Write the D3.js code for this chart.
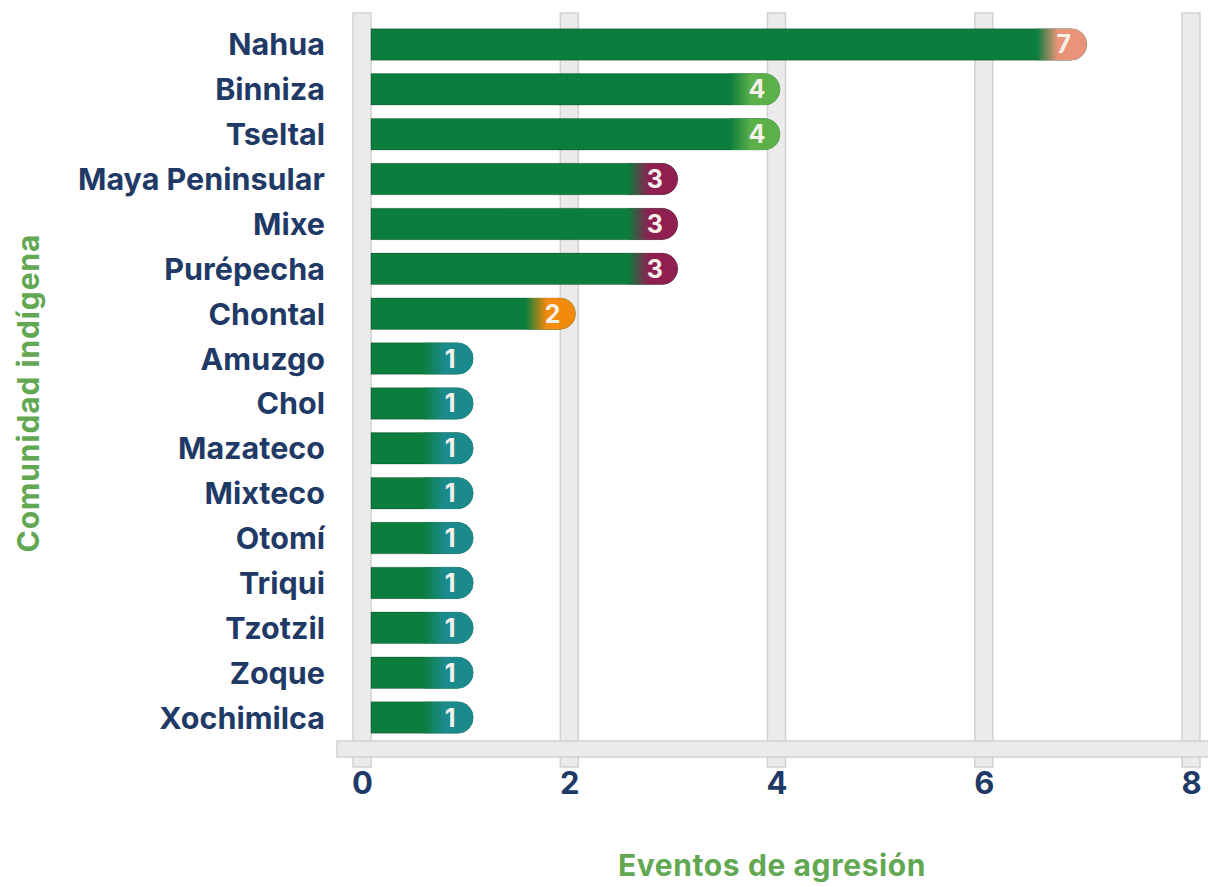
<!DOCTYPE html>
<html>
<head>
<meta charset="utf-8">
<script src="https://cdn.jsdelivr.net/npm/d3@7"></script>
<style>
  html, body { margin: 0; padding: 0; background: #ffffff; }
  svg { display: block; }
  text { font-family: "Inter", "Noto Sans", sans-serif; font-weight: 700; }
</style>
</head>
<body>
<script>
const categories = ["Nahua","Binniza","Tseltal","Maya Peninsular","Mixe","Purépecha","Chontal","Amuzgo","Chol","Mazateco","Mixteco","Otomí","Triqui","Tzotzil","Zoque","Xochimilca"];
const values = [7,4,4,3,3,3,2,1,1,1,1,1,1,1,1,1];
const tickValues = [0,2,4,6,8];
const badgeKeys = [1,2,3,4,7];
const badgeColors = ["#1b8a8c","#f28a0c","#8e1f50","#5cb04a","#e99378"];
const xTitle = "Eventos de agresión";
const yTitle = "Comunidad indígena";

const W = 1208, H = 887;
const barGreen = "#0b7d3d";
const navy = "#1f3a66";
const titleGreen = "#62a853";

const svg = d3.select("body").append("svg").attr("width", W).attr("height", H);
svg.append("rect").attr("width", W).attr("height", H).attr("fill", "#fff");

const x = d3.scaleLinear().domain([0, 8]).range([362, 1191]);
const xBar = d3.scaleLinear().domain([0, 8]).range([371, 1189]);
const y = d3.scaleBand().domain(categories).range([22, 740]).paddingInner(0.3).paddingOuter(0.15);
const badgeColor = d3.scaleOrdinal().domain(badgeKeys).range(badgeColors);

// gradients
const defs = svg.append("defs");
badgeKeys.forEach((k) => {
  const g = defs.append("linearGradient").attr("id", "bg" + k)
    .attr("x1", "0").attr("x2", "1").attr("y1", "0").attr("y2", "0");
  g.append("stop").attr("offset", "0").attr("stop-color", barGreen);
  g.append("stop").attr("offset", "0.42").attr("stop-color", badgeColor(k));
  g.append("stop").attr("offset", "1").attr("stop-color", badgeColor(k));
});

// gridlines
const gw = 18;
svg.append("g").selectAll("rect").data(tickValues).join("rect")
  .attr("x", d => x(d) - gw / 2).attr("y", 13)
  .attr("width", gw).attr("height", 754)
  .attr("fill", "#ebebeb").attr("stroke", "#cfcfcf").attr("stroke-width", 1.4);

// axis band
svg.append("rect").attr("x", 337).attr("y", 741).attr("width", W - 337 + 5).attr("height", 16)
  .attr("fill", "#ebebeb").attr("stroke", "#cfcfcf").attr("stroke-width", 1.4);

function pillPath(x0, x1, yy, h) {
  const r = h / 2;
  return `M${x0},${yy}H${x1 - r}A${r},${r} 0 0 1 ${x1 - r},${yy + h}H${x0}Z`;
}

const rows = categories.map((c, i) => ({ c, v: values[i] }));
const bh = y.bandwidth();

const bars = svg.append("g");
bars.selectAll("path.bar").data(rows).join("path").attr("class", "bar")
  .attr("d", d => pillPath(xBar(0), xBar(d.v), y(d.c), bh))
  .attr("fill", barGreen).attr("stroke", "rgba(0,0,0,0.22)").attr("stroke-width", 1);

const bw = 50;
bars.selectAll("path.badge").data(rows).join("path").attr("class", "badge")
  .attr("d", d => pillPath(xBar(d.v) - bw, xBar(d.v), y(d.c), bh))
  .attr("fill", d => `url(#bg${d.v})`);

bars.selectAll("text.val").data(rows).join("text").attr("class", "val")
  .attr("x", d => xBar(d.v) - 23).attr("y", d => y(d.c) + bh / 2)
  .attr("dy", "0.36em").attr("text-anchor", "middle")
  .attr("font-size", 25).attr("fill", "#f4f0ea")
  .text(d => d.v);

// category labels
svg.append("g").selectAll("text").data(categories).join("text")
  .attr("x", 325).attr("y", d => y(d) + bh / 2).attr("dy", "0.36em")
  .attr("text-anchor", "end").attr("font-size", 30.5).attr("fill", navy)
  .text(d => d);

// x tick labels
const xAxis = d3.axisBottom(x).tickValues(tickValues).tickSize(0).tickPadding(0);
const xg = svg.append("g").attr("transform", "translate(0,772)").call(xAxis);
xg.select(".domain").remove();
xg.selectAll("text").attr("font-size", 31).attr("fill", navy)
  .attr("font-family", "Inter, sans-serif").attr("font-weight", 700).attr("dy", "0.72em");

// axis titles
svg.append("text").attr("x", 772).attr("y", 876).attr("text-anchor", "middle")
  .attr("font-size", 30).attr("letter-spacing", 0.6).attr("fill", titleGreen).text(xTitle);
svg.append("text").attr("transform", "translate(39,393) rotate(-90)").attr("text-anchor", "middle")
  .attr("font-size", 30).attr("letter-spacing", 0.9).attr("fill", titleGreen).text(yTitle);
</script>
</body>
</html>
